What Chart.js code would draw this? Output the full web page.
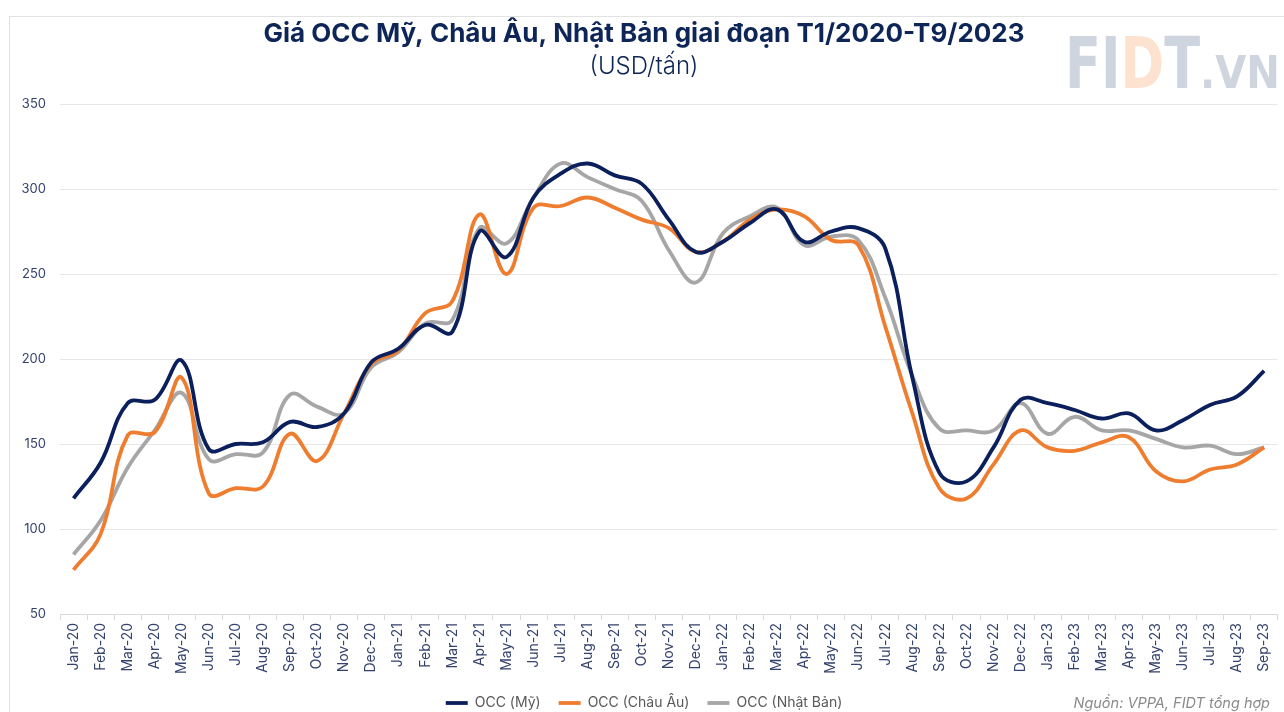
<!DOCTYPE html>
<html>
<head>
<meta charset="utf-8">
<script src="https://cdn.jsdelivr.net/npm/chart.js@4.4.0/dist/chart.umd.min.js"></script>
<style>
  html, body { margin: 0; padding: 0; background: #fff; }
  #occGraph { width: 1284px; height: 712px; position: relative; }
</style>
</head>
<body>
<div id="occGraph"><canvas id="myChart"></canvas></div>
<script>
var months = ["Jan-20", "Feb-20", "Mar-20", "Apr-20", "May-20", "Jun-20", "Jul-20", "Aug-20", "Sep-20", "Oct-20", "Nov-20", "Dec-20",
  "Jan-21", "Feb-21", "Mar-21", "Apr-21", "May-21", "Jun-21", "Jul-21", "Aug-21", "Sep-21", "Oct-21", "Nov-21", "Dec-21",
  "Jan-22", "Feb-22", "Mar-22", "Apr-22", "May-22", "Jun-22", "Jul-22", "Aug-22", "Sep-22", "Oct-22", "Nov-22", "Dec-22",
  "Jan-23", "Feb-23", "Mar-23", "Apr-23", "May-23", "Jun-23", "Jul-23", "Aug-23", "Sep-23"];

var occMy = [118, 139, 174, 176, 199, 147, 150, 151, 163, 160, 168, 198,
  206, 220, 216, 275, 260, 295, 309, 315, 308, 303, 282, 263,
  269, 280, 288, 269, 275, 277, 265, 189, 133, 128, 148, 176,
  174, 170, 165, 168, 158, 164, 173, 178, 193];

var occChauAu = [76, 97, 155, 157, 189, 121, 124, 125, 156, 140, 168, 197,
  205, 227, 234, 285, 250, 289, 290, 295, 289, 282, 277, 263,
  269, 282, 288, 284, 270, 267, 219, 168, 124, 118, 138, 158,
  148, 146, 151, 154, 134, 128, 135, 138, 148];

var occNhatBan = [85, 105, 136, 158, 180, 141, 144, 145, 179, 172, 168, 195,
  204, 221, 223, 277, 268, 295, 315, 307, 300, 293, 264, 245,
  274, 284, 289, 267, 272, 270, 236, 190, 159, 158, 158, 174,
  156, 166, 158, 158, 153, 148, 149, 144, 148];

var yMin = 50, yMax = 350, yStep = 50;

var fontName = "Inter, 'Noto Sans', sans-serif";
var tickColor = "#34426e";
var lineW = 3.8;

// khung, logo va nguon
var decorPlugin = {
  id: 'decor',
  beforeDraw: function (chart) {
    var ctx = chart.ctx;
    ctx.save();
    ctx.strokeStyle = "#e2e2e2";
    ctx.lineWidth = 1;
    ctx.beginPath();
    ctx.moveTo(9.5, 712);
    ctx.lineTo(9.5, 16.5);
    ctx.lineTo(1284, 16.5);
    ctx.stroke();

    // logo FIDT.VN
    ctx.textBaseline = "alphabetic";
    ctx.font = "bold 72px 'DejaVu Sans Condensed', sans-serif";
    var parts = [["FI", "#cfd5df"], ["D", "#fde2d0"], ["T", "#cfd5df"]];
    var w = 0;
    parts.forEach(function (p) { w += ctx.measureText(p[0]).width; });
    var sx = 135 / w;
    ctx.save();
    ctx.translate(1065, 88);
    ctx.scale(sx, 1);
    var x = 0;
    parts.forEach(function (p) {
      ctx.fillStyle = p[1];
      ctx.fillText(p[0], x, 0);
      x += ctx.measureText(p[0]).width;
    });
    ctx.restore();
    ctx.font = "bold 44px 'DejaVu Sans', sans-serif";
    ctx.fillStyle = "#cfd5df";
    var vw = ctx.measureText(".VN").width;
    ctx.save();
    ctx.translate(1200, 88);
    ctx.scale(80 / vw, 1);
    ctx.fillText(".VN", 0, 0);
    ctx.restore();
    ctx.restore();
  },
  afterDraw: function (chart) {
    var ctx = chart.ctx;
    ctx.save();
    ctx.font = "italic 14.5px " + fontName;
    ctx.fillStyle = "#8a8a8a";
    ctx.textAlign = "right";
    ctx.textBaseline = "alphabetic";
    ctx.fillText("Nguồn: VPPA, FIDT tổng hợp", 1270, 708);
    ctx.restore();
  }
};

var ctx = document.getElementById("myChart").getContext('2d');
var myChart = new Chart(ctx, {
  type: 'line',
  data: {
    labels: months,
    datasets: [{
      label: 'OCC (Mỹ)',
      data: occMy,
      borderWidth: lineW,
      borderColor: "#0a1f5c",
      backgroundColor: "#0a1f5c"
    }, {
      label: 'OCC (Châu Âu)',
      data: occChauAu,
      borderWidth: lineW,
      borderColor: "#ef7d2f",
      backgroundColor: "#ef7d2f"
    }, {
      label: 'OCC (Nhật Bản)',
      data: occNhatBan,
      borderWidth: lineW,
      borderColor: "#a6a6a6",
      backgroundColor: "#a6a6a6"
    }]
  },
  options: {
    responsive: true,
    maintainAspectRatio: false,
    animation: false,
    layout: { padding: { left: 10, right: 6, top: 0, bottom: -8 } },
    elements: {
      line: { tension: 0.4, fill: false },
      point: { radius: 0, hoverRadius: 0 }
    },
    plugins: {
      title: {
        display: true,
        text: 'Giá OCC Mỹ, Châu Âu, Nhật Bản giai đoạn T1/2020-T9/2023',
        color: "#0d2657",
        font: { family: fontName, size: 26, weight: 'bold' },
        padding: { top: 19, bottom: 2 }
      },
      subtitle: {
        display: true,
        text: '(USD/tấn)',
        color: "#0d2657",
        font: { family: fontName, size: 24, weight: '300' },
        padding: { top: 0, bottom: 23 }
      },
      legend: {
        position: 'bottom',
        labels: {
          color: "#595959",
          font: { family: fontName, size: 14 },
          usePointStyle: true,
          pointStyle: 'line',
          pointStyleWidth: 22,
          boxWidth: 22,
          padding: 18
        }
      },
      tooltip: { enabled: false }
    },
    scales: {
      x: {
        offset: true,
        afterFit: function (scale) { scale.height = 64; },
        grid: { drawOnChartArea: false, drawTicks: true, tickLength: 6, color: "#d9d9d9", offset: true },
        border: { display: true, color: "#d9d9d9" },
        ticks: {
          autoSkip: false,
          maxRotation: 90,
          minRotation: 90,
          color: tickColor,
          padding: 3,
          font: { family: fontName, size: 14 }
        }
      },
      y: {
        min: yMin,
        max: yMax,
        afterFit: function (scale) { scale.width = 50; },
        grid: { color: "#e6e6e6", drawTicks: false },
        border: { display: false },
        ticks: {
          stepSize: yStep,
          color: tickColor,
          padding: 14,
          font: { family: fontName, size: 13 }
        }
      }
    }
  },
  plugins: [decorPlugin]
});
</script>
</body>
</html>
